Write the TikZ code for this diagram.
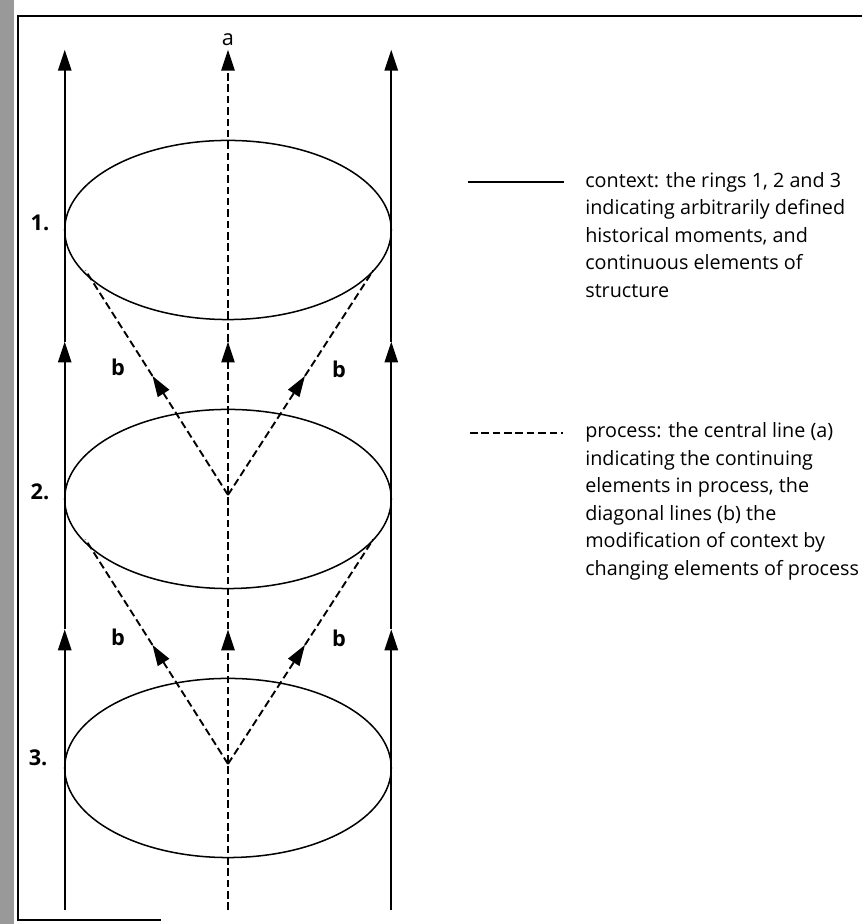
\documentclass[tikz,border=0pt]{standalone}
\usepackage{fontspec}
\setmainfont{Open Sans}
\usetikzlibrary{arrows.meta,calc}

\begin{document}
\begin{tikzpicture}[x=0.5cm,y=0.5cm,
  context/.style={line width=1pt},
  process/.style={line width=1pt,dash pattern=on 4pt off 2pt},
  ring/.style={line width=0.8pt},
  tip/.style={-{Triangle[length=11pt,width=7pt]}},
  lbl/.style={font=\fontsize{11.5}{13}\selectfont\bfseries},
  note/.style={align=left,anchor=north west,inner sep=0pt,font=\fontsize{10.45}{14.6}\selectfont}]
  \useasboundingbox (-8.476,-15.80) rectangle (23.569,18.55);
  % scanned edge and frame
  \fill[black!40] (-8.476,-15.80) rectangle (-7.95,18.55);
  \coordinate (fbr) at (-2.5,-15.65); \coordinate (fbl) at (-7.81,-15.65);
  \coordinate (ftl) at (-7.81,17.96); \coordinate (ftr) at (23.57,17.96);
  \draw[line width=1.1pt] (fbr) -- (fbl) -- (ftl) -- (ftr);
  % rings
  \foreach \n/\y in {1/10,2/0,3/-10}{
    \coordinate (O\n) at (0,\y);
    \draw[ring] (O\n) ellipse (6.07 and 3.33);
  }
  % vertical lines
  \foreach \c/\x in {L/-6.07,C/0,R/6.07}{
    \coordinate (\c0) at (\x,-15.28); \coordinate (\c1) at (\x,-4.85);
    \coordinate (\c2) at (\x,5.85); \coordinate (\c3) at (\x,16.7);
  }
  \draw[context,tip] (L0) -- (L1); \draw[context,tip] (L1) -- (L2); \draw[context,tip] (L2) -- (L3);
  \draw[context,tip] (R0) -- (R1); \draw[context,tip] (R1) -- (R2); \draw[context,tip] (R2) -- (R3);
  \draw[process,tip] (C0) -- (C1); \draw[process,tip] (C1) -- (C2); \draw[process,tip] (C2) -- (C3);
  % diagonal lines
  \coordinate (V2) at (0,0.15); \coordinate (V3) at (0,-9.85);
  \coordinate (E1L) at (-5.3,8.5); \coordinate (E1R) at (5.4,8.5);
  \coordinate (E2L) at (-5.3,-1.5); \coordinate (E2R) at (5.4,-1.5);
  \coordinate (B1L) at ($(V2)!0.53!(E1L)$); \coordinate (B1R) at ($(V2)!0.53!(E1R)$);
  \coordinate (B2L) at ($(V3)!0.53!(E2L)$); \coordinate (B2R) at ($(V3)!0.53!(E2R)$);
  \draw[process,tip] (V2) -- (B1L); \draw[process] (B1L) -- (E1L);
  \draw[process,tip] (V2) -- (B1R); \draw[process] (B1R) -- (E1R);
  \draw[process,tip] (V3) -- (B2L); \draw[process] (B2L) -- (E2L);
  \draw[process,tip] (V3) -- (B2R); \draw[process] (B2R) -- (E2R);
  % labels
  \node[font=\fontsize{11.5}{13}\selectfont] (a) at (0,17.06) {a};
  \node[lbl] (b1) at (-4.09,4.91) {b}; \node[lbl] (b2) at (4.13,4.83) {b};
  \node[lbl] (b3) at (-4.09,-5.13) {b}; \node[lbl] (b4) at (4.13,-5.17) {b};
  \node[lbl] (r1) at (-6.99,10.26) {1.};
  \node[lbl] (r2) at (-6.99,0.26) {2.};
  \node[lbl] (r3) at (-7.06,-9.63) {3.};
  % key
  \coordinate (ctxA) at (8.92,11.78); \coordinate (ctxB) at (12.48,11.78);
  \draw[context] (ctxA) -- (ctxB);
  \node[note] (ctxtext) at (13.27,12.17) {context: the rings 1, 2 and 3\\indicating arbitrarily defined\\historical moments, and\\continuous elements of\\structure};
  \coordinate (procA) at (9.0,2.45); \coordinate (procB) at (12.45,2.45);
  \draw[process] (procA) -- (procB);
  \node[note] (proctext) at (13.27,2.86) {process: the central line (a)\\indicating the continuing\\elements in process, the\\diagonal lines (b) the\\modification of context by\\changing elements of process};
\end{tikzpicture}
\end{document}
